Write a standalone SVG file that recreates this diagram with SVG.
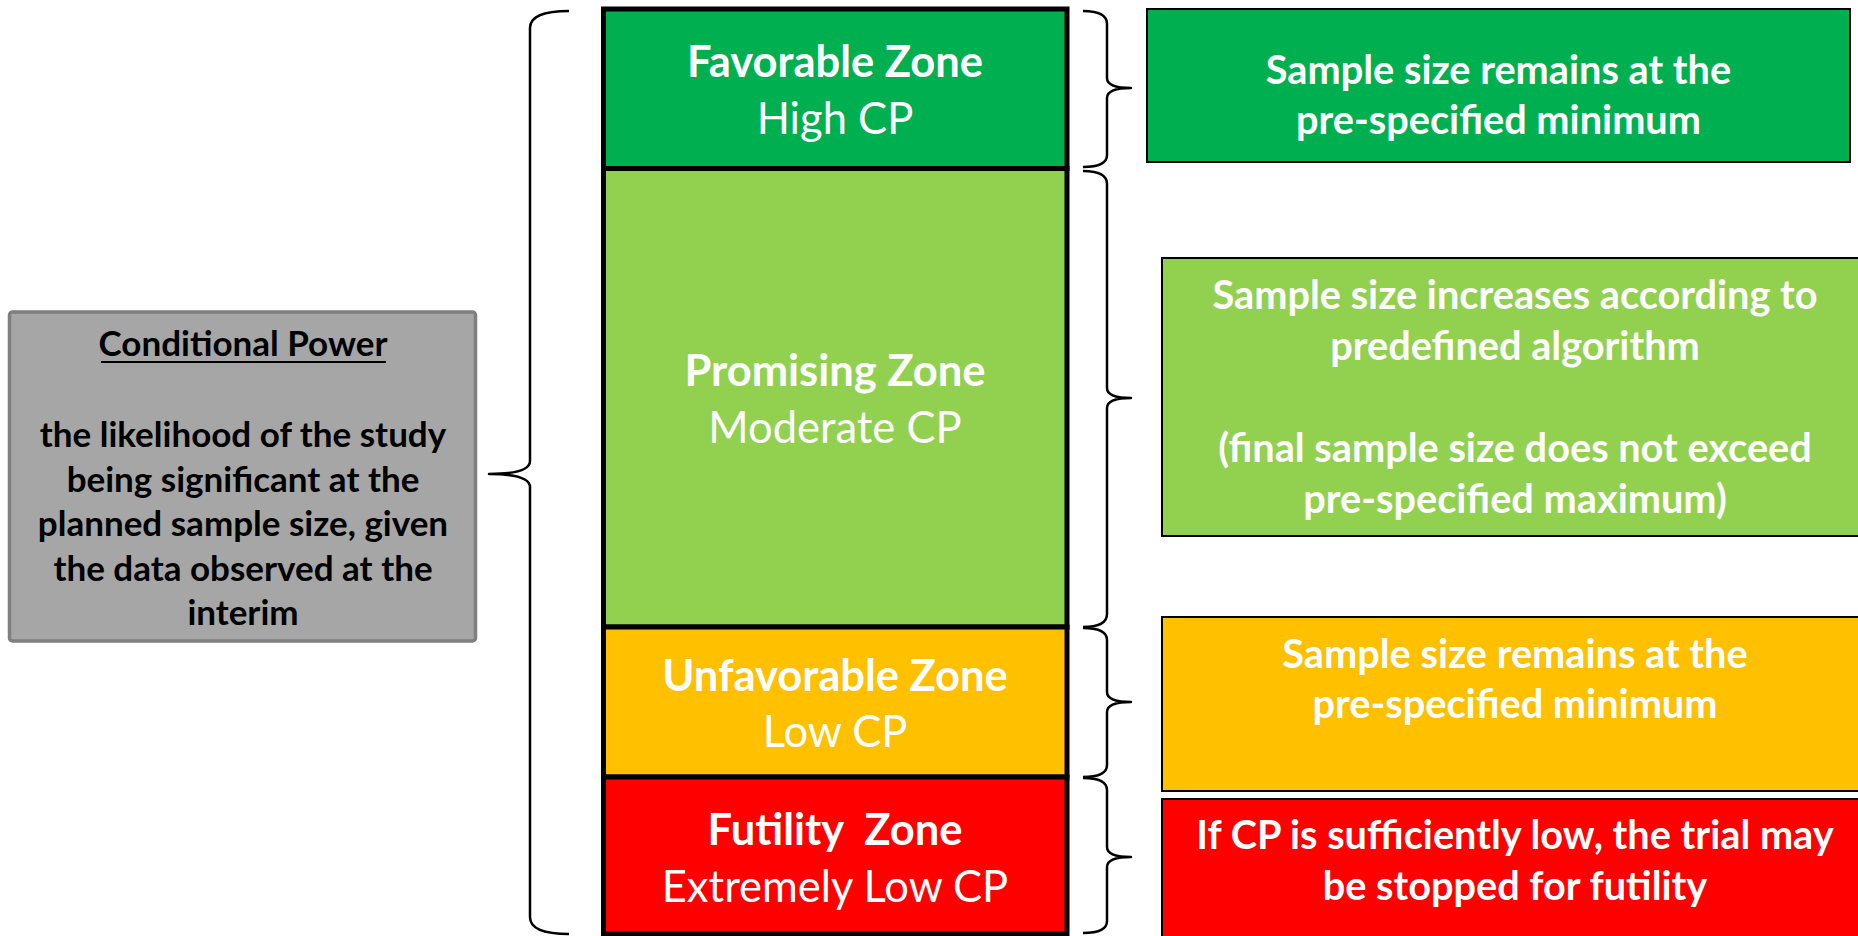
<svg xmlns="http://www.w3.org/2000/svg" width="1858" height="936" viewBox="0 0 1858 936">
<style>
.zt{font-family:Lato,"Open Sans",sans-serif;font-weight:bold;font-size:43.5px;fill:#fff;text-anchor:middle}
.zs{font-family:Lato,"Open Sans",sans-serif;font-size:43.5px;fill:#fff;text-anchor:middle}
.rt{font-family:Lato,"Open Sans",sans-serif;font-weight:bold;font-size:39.7px;fill:#fff;text-anchor:middle}
.gt{font-family:Lato,"Open Sans",sans-serif;font-weight:bold;font-size:35px;fill:#000;text-anchor:middle}
.zone{stroke:#000;stroke-width:5}
.rbox{stroke:#000;stroke-width:2}
.brace{fill:none;stroke:#000;stroke-width:2.5;stroke-linejoin:round}
</style>
<rect width="1858" height="936" fill="#fff"/>
<g id="conditional-power">
<rect x="9.5" y="312" width="466" height="329" rx="3" fill="#A6A6A6" stroke="#7F7F7F" stroke-width="3.5"/>
<text class="gt" x="243" y="356">Conditional Power</text>
<line x1="101" y1="362" x2="386" y2="362" stroke="#000" stroke-width="2"/>
<text class="gt" x="243" y="447">the likelihood of the study</text>
<text class="gt" x="243" y="491.5">being significant at the</text>
<text class="gt" x="243" y="536">planned sample size, given</text>
<text class="gt" x="243" y="580.5">the data observed at the</text>
<text class="gt" x="243" y="625">interim</text>
</g>
<g id="favorable-zone">
<rect class="zone" x="603.5" y="9" width="463.5" height="159.5" fill="#00B050"/>
<text class="zt" x="835" y="77">Favorable Zone</text>
<text class="zs" x="835" y="134">High CP</text>
</g>
<g id="promising-zone">
<rect class="zone" x="603.5" y="168.5" width="463.5" height="458.5" fill="#92D050"/>
<text class="zt" x="835" y="386">Promising Zone</text>
<text class="zs" x="835" y="443">Moderate CP</text>
</g>
<g id="unfavorable-zone">
<rect class="zone" x="603.5" y="627" width="463.5" height="150" fill="#FFC000"/>
<text class="zt" x="835" y="691">Unfavorable Zone</text>
<text class="zs" x="835" y="747">Low CP</text>
</g>
<g id="futility-zone">
<rect class="zone" x="603.5" y="777" width="463.5" height="157" fill="#FF0000"/>
<text class="zt" x="835" y="845" xml:space="preserve">Futility  Zone</text>
<text class="zs" x="835" y="902">Extremely Low CP</text>
</g>
<g id="favorable-action">
<rect class="rbox" x="1147" y="9" width="703" height="153" fill="#00B050"/>
<text class="rt" x="1498.5" y="84">Sample size remains at the</text>
<text class="rt" x="1498.5" y="134">pre-specified minimum</text>
</g>
<g id="promising-action">
<rect class="rbox" x="1162" y="258" width="710" height="278" fill="#92D050"/>
<text class="rt" x="1515" y="309">Sample size increases according to</text>
<text class="rt" x="1515" y="360">predefined algorithm</text>
<text class="rt" x="1515" y="462">(final sample size does not exceed</text>
<text class="rt" x="1515" y="513">pre-specified maximum)</text>
</g>
<g id="unfavorable-action">
<rect class="rbox" x="1162" y="617" width="710" height="174" fill="#FFC000"/>
<text class="rt" x="1515" y="668">Sample size remains at the</text>
<text class="rt" x="1515" y="718">pre-specified minimum</text>
</g>
<g id="futility-action">
<rect class="rbox" x="1162" y="799" width="710" height="150" fill="#FF0000"/>
<text class="rt" x="1515" y="849">If CP is sufficiently low, the trial may</text>
<text class="rt" x="1515" y="900">be stopped for futility</text>
</g>
<g id="connectors">
<path class="brace" d="M569 11 Q530 11 530 28 L530 461 Q530 474 489 474 Q530 474 530 487 L530 917 Q530 934 569 934"/>
<path class="brace" d="M1083 11 Q1107 11 1107 24 L1107 78 Q1107 88 1131 88 Q1107 88 1107 98 L1107 155 Q1107 167 1083 167"/>
<path class="brace" d="M1083 171 Q1107 171 1107 184 L1107 388 Q1107 398 1131 398 Q1107 398 1107 408 L1107 614 Q1107 627 1083 627"/>
<path class="brace" d="M1083 628 Q1107 628 1107 640 L1107 692 Q1107 702 1131 702 Q1107 702 1107 712 L1107 765 Q1107 777 1083 777"/>
<path class="brace" d="M1083 778 Q1107 778 1107 790 L1107 847 Q1107 857 1131 857 Q1107 857 1107 867 L1107 921 Q1107 933 1083 933"/>
</g>
</svg>
